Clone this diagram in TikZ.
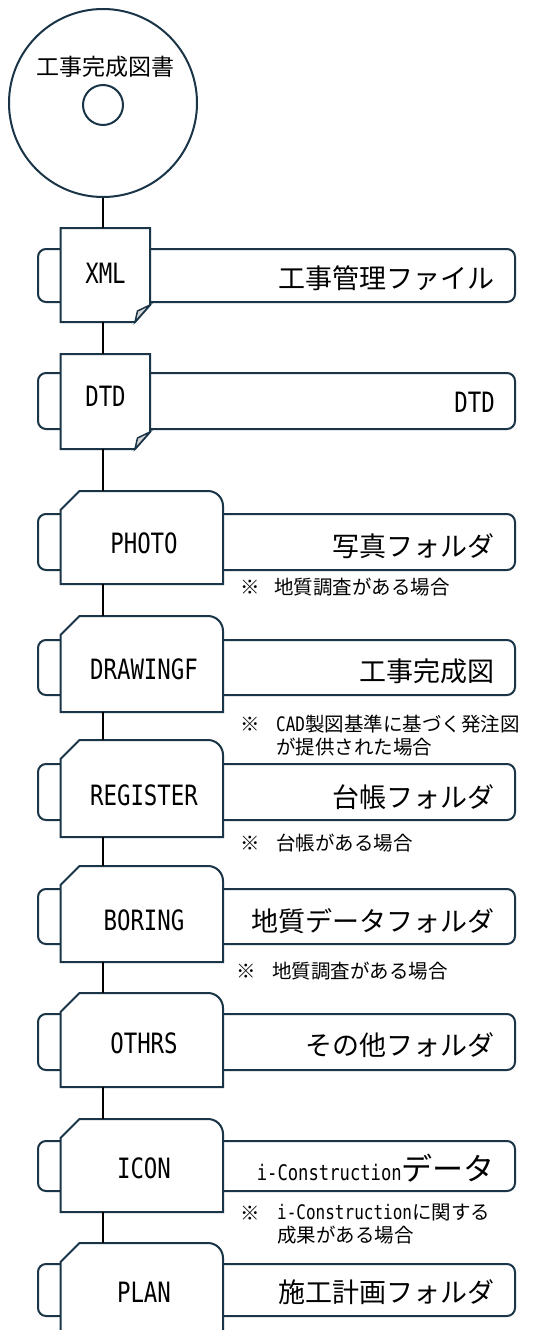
\documentclass[tikz,border=0pt]{standalone}
\usepackage{fontspec}
\setmainfont{Noto Sans CJK JP}
\newfontfamily\half[FakeStretch=0.8]{DejaVu Sans Mono}
\definecolor{ol}{HTML}{1A3547}
\definecolor{foldc}{HTML}{D6D6D6}
\tikzset{
  outl/.style={draw=ol, line width=2pt, line join=miter},
  banner/.style={draw=ol, line width=2pt, fill=white, rounded corners=8pt},
  conn/.style={draw=black, line width=1.7pt},
  lbl/.style={font=\half\fontsize{28}{28}\selectfont, inner sep=0pt},
  jp/.style={font=\fontsize{27}{27}\selectfont, anchor=east, inner sep=0pt},
  notemark/.style={font=\fontsize{19.5}{22.5}\selectfont, anchor=west, inner sep=0pt},
  notetext/.style={font=\fontsize{19.5}{22.5}\selectfont, anchor=west, align=left, inner sep=0pt},
}
\newcommand{\nlat}[1]{{\half\fontsize{20}{22.5}\selectfont #1}}
% folder: name, top, bottom
\newcommand{\fldr}[3]{%
  \draw[outl, fill=white] (60.5,#3) -- (60.5,#2+19) -- (79.5,#2) -- (208,#2)
     arc[start angle=-90, end angle=0, radius=15] -- (223,#3) -- cycle;
  \coordinate (#1-t) at (103,#2);
  \coordinate (#1-b) at (103,#3);}
% document: name, top, bottom
\newcommand{\docu}[3]{%
  \draw[outl, fill=white] (60.5,#2) -- (150,#2) -- (150,#3-17) -- (135,#3) -- (60.5,#3) -- cycle;
  \draw[outl, line width=1.5pt, fill=foldc] (135,#3) -- (137.5,#3-11) -- (150,#3-17) -- cycle;
  \coordinate (#1-t) at (103,#2);
  \coordinate (#1-b) at (103,#3);}
\newcommand{\bnr}[2]{\draw[banner] (38,#1) rectangle (515,#2);}
\begin{document}
\begin{tikzpicture}[x=1pt, y=-1pt]
\useasboundingbox (0,0) rectangle (540,1330);
\clip (0,0) rectangle (540,1330);
\fill[white] (0,0) rectangle (540,1330);

% disc
\node[circle, draw=ol, line width=2pt, minimum size=188pt, inner sep=0pt] (disk) at (103,103) {};
\node[circle, draw=ol, line width=2pt, minimum size=40pt, inner sep=0pt] (hole) at (103,105) {};
\node[font=\fontsize{23}{23}\selectfont, inner sep=0pt] (title) at (105,67) {工事完成図書};

% XML
\bnr{249}{302}
\docu{xml}{228}{322}
\node[lbl] (xmll) at (105.5,273) {XML};
\node[jp] (xmlj) at (495,278) {工事管理ファイル};

% DTD
\bnr{373}{429}
\docu{dtd}{354}{449}
\node[lbl] (dtdl) at (105.5,396) {DTD};
\node[lbl, anchor=east] (dtdj) at (495,402) {DTD};

% PHOTO
\bnr{514}{570}
\fldr{photo}{491}{584}
\node[lbl] (photol) at (144,543) {PHOTO};
\node[jp] (photoj) at (495,546) {写真フォルダ};
\node[notemark] (photom) at (240,587) {※};
\node[notetext] (photon) at (274,587) {地質調査がある場合};

% DRAWINGF
\bnr{640}{695}
\fldr{draw}{616}{712}
\node[lbl] (drawl) at (144,669) {DRAWINGF};
\node[jp] (drawj) at (495,671) {工事完成図};
\node[notemark] (drawm) at (240,724) {※};
\node[notetext] (drawn) at (276,735.5) {\nlat{CAD}製図基準に基づく発注図\\が提供された場合};

% REGISTER
\bnr{764}{820}
\fldr{reg}{740}{837}
\node[lbl] (regl) at (144,795) {REGISTER};
\node[jp] (regj) at (495,797) {台帳フォルダ};
\node[notemark] (regm) at (240,843) {※};
\node[notetext] (regn) at (276,843) {台帳がある場合};

% BORING
\bnr{889}{944}
\fldr{bor}{866}{962}
\node[lbl] (borl) at (144,920) {BORING};
\node[jp] (borj) at (495,921) {地質データフォルダ};
\node[notemark] (borm) at (236,971) {※};
\node[notetext] (born) at (272,971) {地質調査がある場合};

% OTHRS
\bnr{1014}{1070}
\fldr{oth}{993}{1087}
\node[lbl] (othl) at (144,1043) {OTHRS};
\node[jp] (othj) at (495,1045) {その他フォルダ};

% ICON
\bnr{1141}{1191}
\fldr{icon}{1119}{1212}
\node[lbl] (iconl) at (144,1168) {ICON};
\node[jp] (iconj) at (495,1168) {{\half\fontsize{21.5}{21.5}\selectfont i-Construction}{\fontsize{31}{31}\selectfont データ}};
\node[notemark] (iconm) at (240,1213) {※};
\node[notetext] (iconn) at (277,1224) {\nlat{i-Construction}に関する\\成果がある場合};

% PLAN
\bnr{1264}{1316}
\fldr{plan}{1243}{1345}
\node[lbl] (planl) at (144,1292) {PLAN};
\node[jp] (planj) at (495,1292) {施工計画フォルダ};

% connectors
\draw[conn] (disk.south) -- (xml-t);
\draw[conn] (xml-b) -- (dtd-t);
\draw[conn] (dtd-b) -- (photo-t);
\draw[conn] (photo-b) -- (draw-t);
\draw[conn] (draw-b) -- (reg-t);
\draw[conn] (reg-b) -- (bor-t);
\draw[conn] (bor-b) -- (oth-t);
\draw[conn] (oth-b) -- (icon-t);
\draw[conn] (icon-b) -- (plan-t);
\end{tikzpicture}
\end{document}
